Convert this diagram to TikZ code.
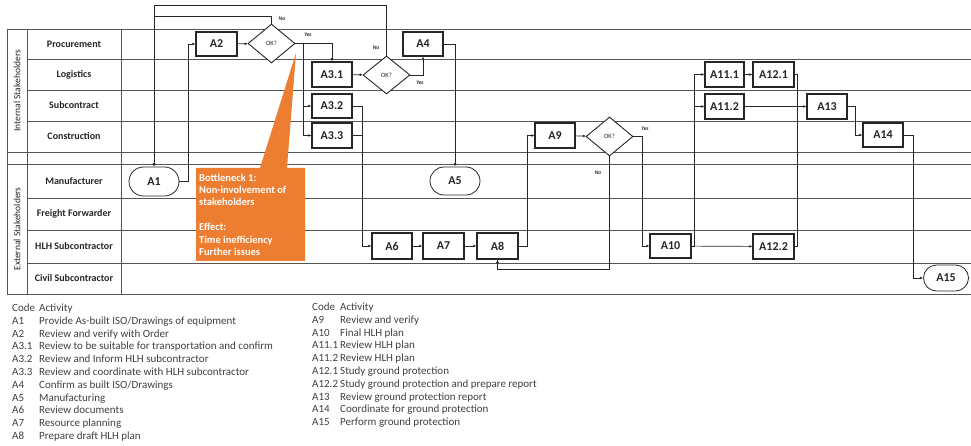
\documentclass[tikz,border=0pt]{standalone}
\usepackage{fontspec}
\setmainfont{Carlito}
\usetikzlibrary{arrows.meta,shapes.geometric,shapes.misc,calc}
\definecolor{lane}{HTML}{555555}
\definecolor{ink}{HTML}{262626}
\definecolor{callout}{HTML}{ED7D31}
\definecolor{legend}{HTML}{404040}
\begin{document}
\begin{tikzpicture}[x=1pt,y=-1pt,
 lanel/.style={draw=lane,line width=0.8pt},
 lanetext/.style={font=\fontsize{10}{11}\selectfont\bfseries,text=ink,inner sep=0pt},
 grouptext/.style={font=\fontsize{9.5}{10}\selectfont,text=ink,rotate=90,inner sep=0pt},
 act/.style={draw=ink,line width=1.1pt,fill=white,minimum width=40pt,minimum height=24pt,inner sep=0pt,font=\fontsize{12}{13}\selectfont\bfseries,text=ink},
 term/.style={rounded rectangle,draw=ink,line width=0.8pt,fill=white,minimum width=50pt,minimum height=29pt,inner sep=0pt,font=\fontsize{12}{13}\selectfont\bfseries,text=ink},
 dec/.style={diamond,draw=ink,line width=0.9pt,fill=white,minimum width=47pt,minimum height=39pt,inner sep=0pt,font=\fontsize{6.5}{7}\selectfont,text=ink},
 arr/.style={draw=ink,line width=0.7pt,-{Latex[length=3.2pt,width=2.8pt]}},
 conn/.style={draw=ink,line width=0.7pt},
 lab/.style={font=\fontsize{5.5}{6}\selectfont\bfseries\itshape,text=ink,inner sep=0pt},
 leg/.style={font=\fontsize{11}{12}\selectfont,text=legend,anchor=base west,inner sep=0pt},
]
\useasboundingbox (0,0) rectangle (971,446);
% swimlane grid
\foreach \yy in {29,152,164,294} \draw[lanel] (7,\yy) -- (971,\yy);
\foreach \yy in {59,90,121,198,230,263} \draw[lanel] (27,\yy) -- (971,\yy);
\foreach \xx in {7,27,121} \draw[lanel] (\xx,29) -- (\xx,294);
% lane labels
\node[lanetext] (lp) at (74,44) {Procurement};
\node[lanetext] (ll) at (74,74.5) {Logistics};
\node[lanetext] (ls) at (74,105.5) {Subcontract};
\node[lanetext] (lc) at (74,136.5) {Construction};
\node[lanetext] (lm) at (74,181.5) {Manufacturer};
\node[lanetext] (lf) at (74,213.5) {Freight Forwarder};
\node[lanetext] (lh) at (74,246.5) {HLH Subcontractor};
\node[lanetext] (lv) at (74,278.5) {Civil Subcontractor};
\node[grouptext] (gi) at (17,91) {Internal Stakeholders};
\node[grouptext] (ge) at (17,229) {External Stakeholders};
% callout
\fill[callout] (196,168) -- (260,168) -- (296,53) -- (287,168) -- (305,168) -- (305,261) -- (196,261) -- cycle;
\node[anchor=north west,inner sep=0pt,text=white,align=left,font=\fontsize{10.5}{12.4}\selectfont\bfseries] (bn) at (199,173.5)
 {Bottleneck 1:\\Non-involvement of\\stakeholders\\[12.4pt]Effect:\\Time inefficiency\\Further issues};
% activities
\node[term] (A1) at (154,181.5) {A1};
\node[act,minimum width=41pt] (A2) at (216.5,44) {A2};
\node[dec] (D1) at (271.5,43.5) {OK?};
\node[act,minimum height=25pt] (A31) at (332,74.5) {A3.1};
\node[act] (A32) at (332,106) {A3.2};
\node[act,minimum height=25pt] (A33) at (332,135.5) {A3.3};
\node[dec,minimum height=38pt] (D2) at (386.5,75) {OK?};
\node[act] (A4) at (423,44) {A4};
\node[term,minimum height=28pt] (A5) at (455,181) {A5};
\node[act,minimum height=26pt] (A6) at (392,246) {A6};
\node[act,minimum width=41pt,minimum height=26pt] (A7) at (443.5,246) {A7};
\node[act,minimum width=41pt,minimum height=26pt] (A8) at (497.5,246) {A8};
\node[act,minimum height=25pt] (A9) at (555,135.5) {A9};
\node[dec] (D3) at (609.5,136.5) {OK?};
\node[act,minimum width=41pt] (A10) at (670.5,246) {A10};
\node[act,minimum width=39pt,minimum height=25pt] (A111) at (724.5,74.5) {A11.1};
\node[act,minimum width=41pt,minimum height=25pt] (A121) at (773.5,74.5) {A12.1};
\node[act,minimum width=39pt,minimum height=25pt] (A112) at (724.5,106.5) {A11.2};
\node[act,minimum height=25pt] (A13) at (827,106.5) {A13};
\node[act] (A14) at (883,135) {A14};
\node[act,minimum width=41pt,minimum height=25pt] (A122) at (773.5,246.5) {A12.2};
\node[term,minimum width=45pt,minimum height=26pt] (A15) at (946,278) {A15};
% connectors
\draw[arr] (A1.east) -- ([xshift=9pt]A1.east) |- (A2.west);
\draw[arr] (A2) -- (D1);
\draw[arr] (D1.north) -- ++(0,-7) -| (A1.north);
\draw[arr] (D2.north) -- ++(0,-50) -| (A1.north);
\draw[arr] (D1.east) -| (A31.north);
\draw[arr] ([xshift=8pt]D1.east) |- (A32.west);
\draw[arr] ([xshift=8pt]D1.east) |- (A33.west);
\draw[arr] (A31) -- (D2);
\draw[arr] (D2.east) -| (A4.south);
\draw[arr] (A4.east) -| (A5.north);
\draw[arr] (A32.east) -- ++(10,0) |- (A6.west);
\draw[conn] (A33.east) -- ++(10,0);
\draw[arr] (A6) -- (A7);
\draw[arr] (A7) -- (A8);
\draw[arr] (A8.east) -- ++(9,0) |- (A9.west);
\draw[arr] (A9) -- (D3);
\draw[arr] (D3.south) -- ++(0,113) -| (A8.south);
\draw[arr] (D3.east) -- ++(9,0) |- (A10.west);
\draw[arr] (A10.east) -- ++(3,0) |- (A111.west);
\draw[arr] (A10.east) -- ++(3,0) |- (A112.west);
\draw[arr] (A10) -- (A122);
\draw[arr] (A111) -- (A121);
\draw[arr] (A112) -- (A13);
\draw[conn] (A121.east) -- ++(3,0) -- ([xshift=3pt]A122.east) -- (A122.east);
\draw[arr] (A13.east) -- ++(8,0) |- (A14.west);
\draw[arr] (A14.east) -- ++(10,0) |- (A15.west);
% decision labels
\node[lab] (n1) at (282,19) {No};
\node[lab] (y1) at (308,35) {Yes};
\node[lab] (n2) at (376,48) {No};
\node[lab] (y2) at (420,83) {Yes};
\node[lab] (n3) at (598,173) {No};
\node[lab] (y3) at (645,129) {Yes};
% legend left
\node[leg] (c0) at (12,311.5) {Code};    \node[leg] (t0) at (39,311.5) {Activity};
\node[leg] (c1) at (12,324.3) {A1};    \node[leg] (t1) at (39,324.3) {Provide As-built ISO/Drawings of equipment};
\node[leg] (c2) at (12,337.1) {A2};    \node[leg] (t2) at (39,337.1) {Review and verify with Order};
\node[leg] (c3) at (12,349.9) {A3.1};  \node[leg] (t3) at (39,349.9) {Review to be suitable for transportation and confirm};
\node[leg] (c4) at (12,362.7) {A3.2};  \node[leg] (t4) at (39,362.7) {Review and Inform HLH subcontractor};
\node[leg] (c5) at (12,375.5) {A3.3};    \node[leg] (t5) at (39,375.5) {Review and coordinate with HLH subcontractor};
\node[leg] (c6) at (12,388.3) {A4};    \node[leg] (t6) at (39,388.3) {Confirm as built ISO/Drawings};
\node[leg] (c7) at (12,401.1) {A5};    \node[leg] (t7) at (39,401.1) {Manufacturing};
\node[leg] (c8) at (12,413.9) {A6};    \node[leg] (t8) at (39,413.9) {Review documents};
\node[leg] (c9) at (12,426.7) {A7};    \node[leg] (t9) at (39,426.7) {Resource planning};
\node[leg] (c10) at (12,439.5) {A8};     \node[leg] (t10) at (39,439.5) {Prepare draft HLH plan};
% legend right
\node[leg] (d0) at (312,310.5) {Code};   \node[leg] (u0) at (340,310.5) {Activity};
\node[leg] (d1) at (312,323.3) {A9};   \node[leg] (u1) at (340,323.3) {Review and verify};
\node[leg] (d2) at (312,336.1) {A10};  \node[leg] (u2) at (340,336.1) {Final HLH plan};
\node[leg] (d3) at (312,348.9) {A11.1};\node[leg] (u3) at (340,348.9) {Review HLH plan};
\node[leg] (d4) at (312,361.7) {A11.2};\node[leg] (u4) at (340,361.7) {Review HLH plan};
\node[leg] (d5) at (312,374.5) {A12.1};  \node[leg] (u5) at (340,374.5) {Study ground protection};
\node[leg] (d6) at (312,387.3) {A12.2};\node[leg] (u6) at (340,387.3) {Study ground protection and prepare report};
\node[leg] (d7) at (312,400.1) {A13};  \node[leg] (u7) at (340,400.1) {Review ground protection report};
\node[leg] (d8) at (312,412.9) {A14};  \node[leg] (u8) at (340,412.9) {Coordinate for ground protection};
\node[leg] (d9) at (312,425.7) {A15};  \node[leg] (u9) at (340,425.7) {Perform ground protection};
\end{tikzpicture}
\end{document}
